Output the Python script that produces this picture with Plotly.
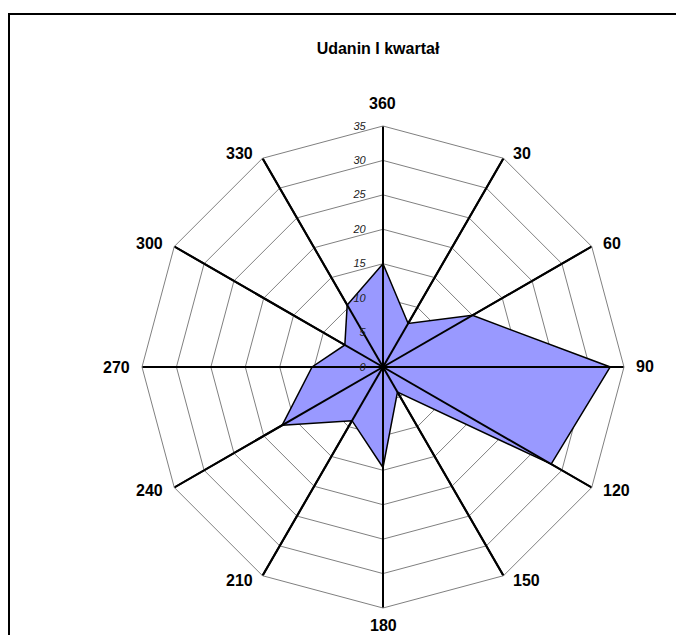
import math
import plotly.graph_objects as go

# Wind directions (degrees) and quarterly frequency values
directions = ["360", "30", "60", "90", "120", "150", "180", "210", "240", "270", "300", "330"]
values = [15.0, 7.3, 15.0, 33.0, 28.2, 4.2, 14.6, 9.0, 16.9, 10.3, 6.4, 10.4]
radial_ticks = [0, 5, 10, 15, 20, 25, 30, 35]
title_text = "Udanin I kwartał"

W, H = 676, 635
FONT = "Arial, Liberation Sans, sans-serif"

fig = go.Figure()

# filled radar polygon
fig.add_trace(go.Scatterpolar(
    r=values + values[:1],
    theta=directions + directions[:1],
    mode="lines",
    fill="toself",
    fillcolor="#9999FF",
    line=dict(color="black", width=1.5),
    hoverinfo="skip",
    showlegend=False,
))

# category spokes drawn above the fill
spoke_r, spoke_t = [], []
for d in directions:
    spoke_r += [0, radial_ticks[-1], None]
    spoke_t += [d, d, d]
fig.add_trace(go.Scatterpolar(
    r=spoke_r, theta=spoke_t, mode="lines",
    line=dict(color="black", width=2),
    connectgaps=False, hoverinfo="skip", showlegend=False,
))

# polar area geometry in pixels
cx, cy, R = 383, 367, 241

# category labels placed beside the outer vertices, spreadsheet style
annotations = []
n = len(directions)
for i, d in enumerate(directions):
    a = 2 * math.pi * i / n
    s, c = math.sin(a), math.cos(a)
    vx, vy = cx + R * s, cy - R * c
    if abs(s) < 1e-6:
        px, xa = vx, "center"
        py = vy - 23 if c > 0 else vy + 17
    else:
        gap = 6 + 5 * abs(s)
        px = vx + gap * (1 if s > 0 else -1)
        py = vy - 6 * c
        xa = "left" if s > 0 else "right"
    annotations.append(dict(
        text=d, x=px / W, y=1 - py / H, xref="paper", yref="paper",
        xanchor=xa, yanchor="middle", showarrow=False, borderpad=0,
        font=dict(family=FONT, size=16, weight="bold", color="black"),
    ))

fig.update_layout(
    width=W, height=H,
    margin=dict(l=0, r=0, t=0, b=0),
    paper_bgcolor="white",
    plot_bgcolor="white",
    font=dict(family=FONT, color="black"),
    title=dict(
        text=title_text, x=378 / W, y=1 - 48 / H, xanchor="center", yanchor="middle",
        font=dict(family=FONT, size=16, weight="bold", color="black"),
    ),
    polar=dict(
        domain=dict(x=[(cx - R) / W, (cx + R) / W], y=[1 - (cy + R) / H, 1 - (cy - R) / H]),
        bgcolor="white",
        gridshape="linear",
        angularaxis=dict(
            type="category",
            categoryarray=directions,
            direction="clockwise",
            rotation=90,
            showgrid=True, gridcolor="black", gridwidth=2,
            showline=True, linecolor="#808080", linewidth=1,
            ticks="", showticklabels=False,
        ),
        radialaxis=dict(
            range=[0, radial_ticks[-1]],
            tickvals=radial_ticks,
            angle=90,
            side="counterclockwise",
            showgrid=True, gridcolor="#808080", gridwidth=1,
            showline=False,
            ticks="outside", ticklen=13, tickcolor="rgba(0,0,0,0)",
            tickangle=90,
            tickfont=dict(family=FONT, size=11, style="italic", color="#222222"),
        ),
    ),
    annotations=annotations,
    shapes=[dict(
        type="rect", xref="paper", yref="paper",
        x0=9 / W, x1=(W + 20) / W, y0=-20 / H, y1=1 - 14 / H,
        line=dict(color="black", width=2), fillcolor="rgba(0,0,0,0)", layer="above",
    )],
)

fig.write_html("out.html")
